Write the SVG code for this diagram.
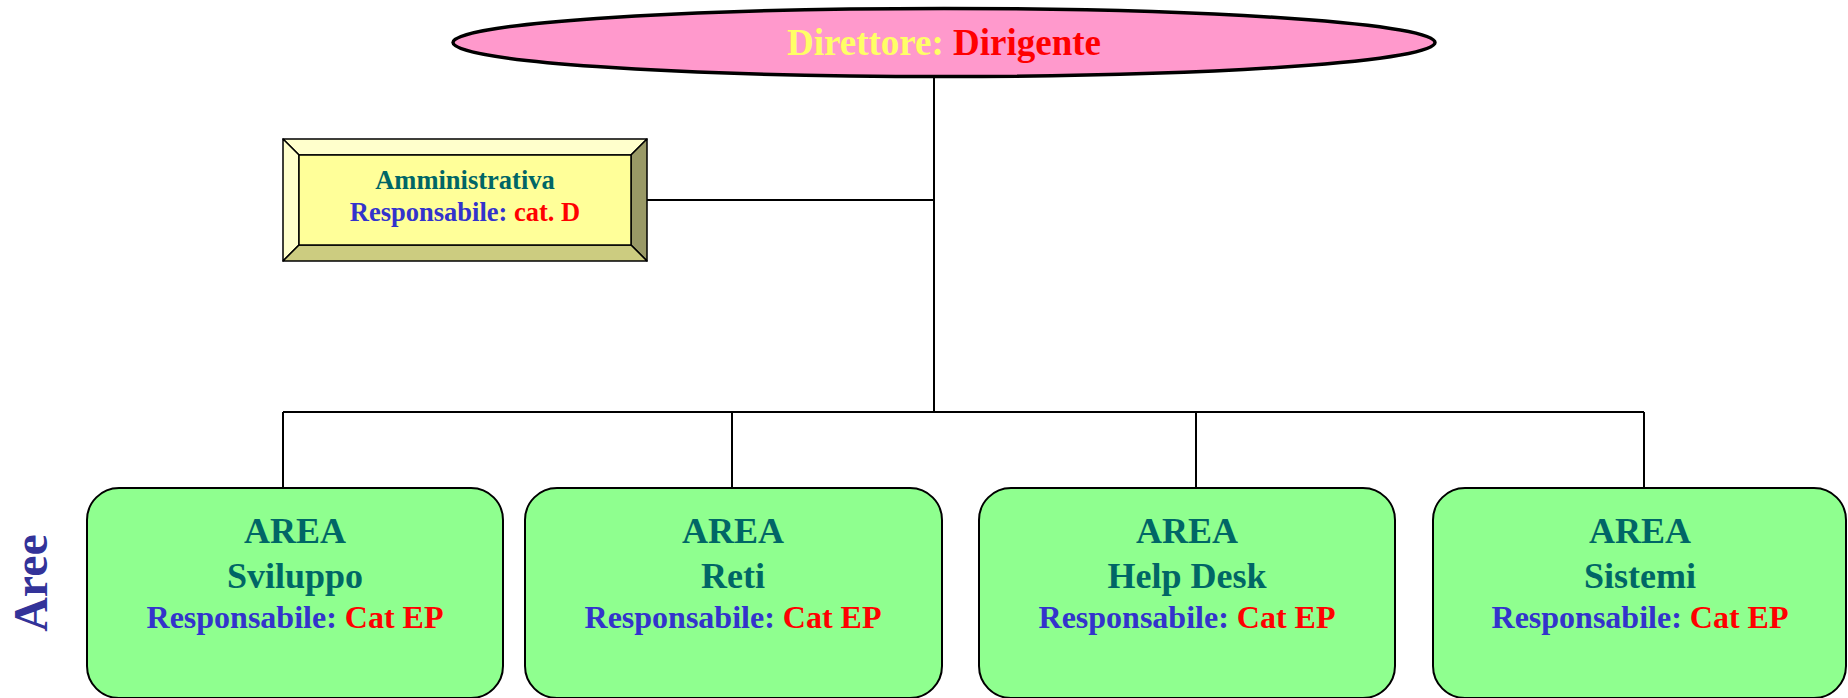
<svg xmlns="http://www.w3.org/2000/svg" width="1848" height="698" viewBox="0 0 1848 698">
<style>
text{font-family:"Liberation Serif","Times New Roman",serif;font-weight:bold;text-anchor:middle}
.teal{fill:#006666}
.blue{fill:#3333CC}
.red{fill:#FF0000}
.yel{fill:#FFFF66}
.area{fill:#8FFF8F;stroke:#000;stroke-width:2}
.conn{fill:none;stroke:#000;stroke-width:2}
.bev{stroke:#000;stroke-width:1.5;stroke-linejoin:round}
.big{font-size:36px}
.resp{font-size:32px}
</style>
<rect width="1848" height="698" fill="#fff"/>
<g id="connectors">
<path class="conn" d="M934 77 V412"/>
<path class="conn" d="M647 200 H934"/>
<path class="conn" d="M283 412 H1644"/>
<path class="conn" d="M283 412 V488"/>
<path class="conn" d="M732 412 V492"/>
<path class="conn" d="M1196 412 V492"/>
<path class="conn" d="M1644 412 V488"/>
</g>
<g id="direttore">
<ellipse cx="944" cy="42.5" rx="491" ry="34" fill="#FF99CC" stroke="#000" stroke-width="3.5"/>
<text x="944" y="55" font-size="37"><tspan class="yel">Direttore: </tspan><tspan class="red">Dirigente</tspan></text>
</g>
<g id="amministrativa">
<polygon class="bev" points="283,139 647,139 631,155 299,155" fill="#FFFFCC"/>
<polygon class="bev" points="283,139 299,155 299,245 283,261" fill="#FFFFCC"/>
<polygon class="bev" points="647,139 647,261 631,245 631,155" fill="#999966"/>
<polygon class="bev" points="283,261 299,245 631,245 647,261" fill="#CCCC80"/>
<rect class="bev" x="299" y="155" width="332" height="90" fill="#FFFF99"/>
<text x="465" y="189" font-size="26.5" class="teal">Amministrativa</text>
<text x="465" y="221" font-size="26.5"><tspan class="blue">Responsabile: </tspan><tspan class="red">cat. D</tspan></text>
</g>
<g id="aree-label">
<text transform="translate(47,583) rotate(-90)" font-size="48" fill="#333399">Aree</text>
</g>
<g id="area-sviluppo">
<rect class="area" x="87" y="488" width="416" height="210" rx="32" ry="32"/>
<text x="295" y="543" class="big teal">AREA</text>
<text x="295" y="588" class="big teal">Sviluppo</text>
<text x="295" y="628" class="resp"><tspan class="blue">Responsabile: </tspan><tspan class="red">Cat EP</tspan></text>
</g>
<g id="area-reti">
<rect class="area" x="525" y="488" width="417" height="210" rx="32" ry="32"/>
<text x="733" y="543" class="big teal">AREA</text>
<text x="733" y="588" class="big teal">Reti</text>
<text x="733" y="628" class="resp"><tspan class="blue">Responsabile: </tspan><tspan class="red">Cat EP</tspan></text>
</g>
<g id="area-helpdesk">
<rect class="area" x="979" y="488" width="416" height="210" rx="32" ry="32"/>
<text x="1187" y="543" class="big teal">AREA</text>
<text x="1187" y="588" class="big teal">Help Desk</text>
<text x="1187" y="628" class="resp"><tspan class="blue">Responsabile: </tspan><tspan class="red">Cat EP</tspan></text>
</g>
<g id="area-sistemi">
<rect class="area" x="1433" y="488" width="413" height="210" rx="32" ry="32"/>
<text x="1640" y="543" class="big teal">AREA</text>
<text x="1640" y="588" class="big teal">Sistemi</text>
<text x="1640" y="628" class="resp"><tspan class="blue">Responsabile: </tspan><tspan class="red">Cat EP</tspan></text>
</g>
</svg>
